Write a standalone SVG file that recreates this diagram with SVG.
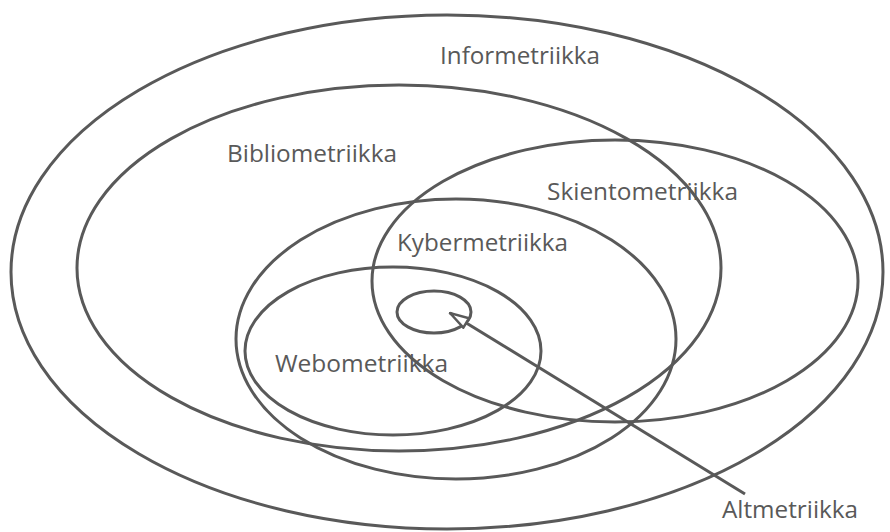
<svg xmlns="http://www.w3.org/2000/svg" width="890" height="532" viewBox="0 0 890 532">
<defs>
<style>
.e{fill:none;stroke:#595959;stroke-width:3}
.t{font-family:"Open Sans","Liberation Sans",sans-serif;font-size:23px;fill:#595959}
</style>
<marker id="ah" viewBox="0 0 22 14" refX="21" refY="7" markerWidth="22" markerHeight="14" markerUnits="userSpaceOnUse" orient="auto">
<path d="M21,7 L2,1.5 L2,12.5 Z" fill="#fff" stroke="#595959" stroke-width="2.5" stroke-linejoin="miter"/>
</marker>
</defs>
<rect width="890" height="532" fill="#fff"/>
<g id="informetriikka">
<ellipse class="e" cx="447" cy="272" rx="436" ry="257"/>
<text class="t" x="440" y="64" textLength="160" lengthAdjust="spacingAndGlyphs">Informetriikka</text>
</g>
<g id="bibliometriikka">
<ellipse class="e" cx="399" cy="268" rx="322" ry="183"/>
<text class="t" x="227" y="162" textLength="170" lengthAdjust="spacingAndGlyphs">Bibliometriikka</text>
</g>
<g id="skientometriikka">
<ellipse class="e" cx="615" cy="281" rx="243" ry="141"/>
<text class="t" x="547" y="200" textLength="191" lengthAdjust="spacingAndGlyphs">Skientometriikka</text>
</g>
<g id="kybermetriikka">
<ellipse class="e" cx="456" cy="339" rx="220" ry="140"/>
<text class="t" x="397" y="251" textLength="171" lengthAdjust="spacingAndGlyphs">Kybermetriikka</text>
</g>
<g id="webometriikka">
<ellipse class="e" cx="393" cy="351" rx="148" ry="84"/>
<text class="t" x="275" y="372" textLength="173" lengthAdjust="spacingAndGlyphs">Webometriikka</text>
</g>
<g id="altmetriikka">
<ellipse class="e" cx="434" cy="312" rx="37" ry="21"/>
<text class="t" x="722" y="518" textLength="136" lengthAdjust="spacingAndGlyphs">Altmetriikka</text>
</g>
<g id="connectors">
<line x1="745" y1="494" x2="450" y2="313" stroke="#595959" stroke-width="3" marker-end="url(#ah)"/>
</g>
</svg>
